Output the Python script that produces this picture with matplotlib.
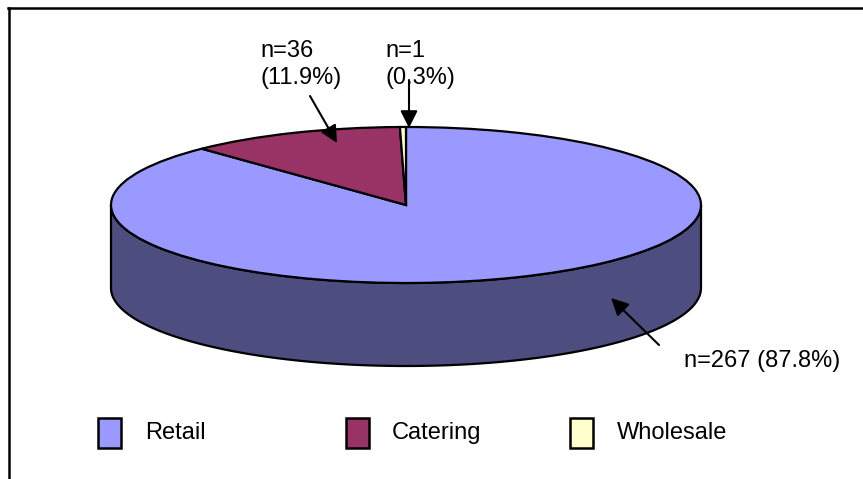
import matplotlib
matplotlib.use("Agg")
import matplotlib.pyplot as plt
import numpy as np
from matplotlib.patches import Rectangle
from matplotlib.lines import Line2D

plt.rcParams['font.family'] = ['Liberation Sans', 'DejaVu Sans']

# ---- data ----
categories = ["Retail", "Catering", "Wholesale"]
counts = [267, 36, 1]
label_texts = ["n=267 (87.8%)", "n=36\n(11.9%)", "n=1\n(0.3%)"]
top_colors = ["#9999FF", "#993366", "#FFFFCC"]
side_color = "#4D4D80"

W, H = 863, 479
fig = plt.figure(figsize=(W / 100, H / 100), dpi=100)
ax = fig.add_axes([0, 0, 1, 1])

# pie geometry in pixels (center, radii, depth)
cx, cy, rx, ry, depth_px = 406, 205, 295, 78, 83

wedges, _ = ax.pie(counts, colors=top_colors, startangle=90, counterclock=False,
                   radius=1, center=(0, 0),
                   wedgeprops=dict(edgecolor="black", linewidth=1.6))
for w in wedges:
    w.set_zorder(3)

# side of the 3D pie (front half, belongs to Retail)
depth = depth_px / ry
t = np.linspace(np.pi, 2 * np.pi, 200)
xs = np.concatenate([np.cos(t), np.cos(t[::-1])])
ys = np.concatenate([np.sin(t), np.sin(t[::-1]) - depth])
ax.fill(xs, ys, facecolor=side_color, edgecolor="black", linewidth=1.6, zorder=2)

ax.set_aspect("auto")
ax.set_xlim(-cx / rx, (W - cx) / rx)
ax.set_ylim((cy - H) / ry, cy / ry)
ax.axis("off")

# ---- data labels with arrows (figure pixel coordinates, y from top) ----
def fp(x, y):
    return (x, H - y)

# baseline of the last text line
label_pos = [(684, 367), (260, 84), (385, 84)]
arrow_from = [(659, 345), (310, 96), (409, 80)]
arrow_to = [(611, 298), (337, 143), (409, 128)]

for txt, lp, af, at in zip(label_texts, label_pos, arrow_from, arrow_to):
    fig.text(lp[0] / W, 1 - lp[1] / H, txt, fontsize=17, ha="left", va="baseline",
             linespacing=1.3, color="black")
    ax.annotate("", xy=fp(*at), xycoords="figure pixels",
                xytext=fp(*af), textcoords="figure pixels",
                arrowprops=dict(arrowstyle="-|>", color="black", lw=1.5,
                                mutation_scale=26, shrinkA=0, shrinkB=0),
                zorder=5)

# ---- legend ----
patch_x = [98, 346, 570]
text_x = [145, 392, 617]
for name, col, px, tx in zip(categories, top_colors, patch_x, text_x):
    fig.add_artist(Rectangle((px / W, 1 - 448 / H), 23 / W, 30 / H,
                             transform=fig.transFigure, facecolor=col,
                             edgecolor="black", linewidth=1.8))
    fig.text(tx / W, 1 - 433 / H, name, fontsize=17, ha="left", va="center")

# ---- chart border (top and left visible) ----
fig.add_artist(Line2D([8 / W, 1], [1 - 8 / H, 1 - 8 / H], transform=fig.transFigure,
                      color="black", linewidth=1.8))
fig.add_artist(Line2D([8.5 / W, 8.5 / W], [0, 1 - 8 / H], transform=fig.transFigure,
                      color="black", linewidth=1.8))

fig.savefig("out.png", dpi=100)
